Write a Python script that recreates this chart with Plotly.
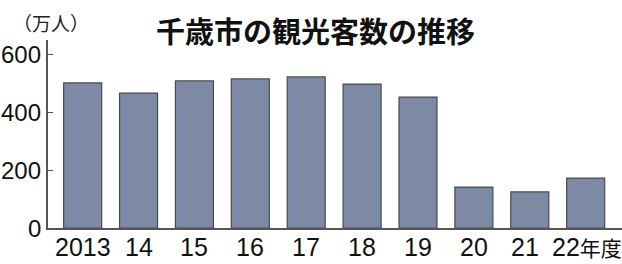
import plotly.graph_objects as go

years = ["2013", "14", "15", "16", "17", "18", "19", "20", "21", "22年度"]
visitors = [503, 468, 510, 517, 524, 499, 454, 142, 125, 173]
y_ticks = [0, 200, 400, 600]

title_text = "千歳市の観光客数の推移"
unit_text = "（万人）"

num_font = "Liberation Sans, Noto Sans CJK JP, sans-serif"
cjk_font = "Noto Sans CJK JP, sans-serif"

# plot area spans x 48..622, y 40..228
PL, PT, PW, PH = 48, 40, 574, 188

fig = go.Figure()
fig.add_trace(go.Bar(
    x=list(range(len(years))),
    y=visitors,
    marker=dict(color="#7c8aa6", line=dict(color="#4a4a4a", width=1.2)),
    width=0.68,
))

annotations = [
    dict(text=f"<b>{title_text}</b>", xref="paper", yref="paper",
         x=(315 - PL) / PW, y=1 + (PT - 30) / PH, xanchor="center", yanchor="middle",
         showarrow=False, font=dict(family=cjk_font, size=29, color="#111")),
    dict(text=unit_text, xref="paper", yref="paper",
         x=(11 - PL) / PW, y=1 + (PT - 23) / PH, xanchor="left", yanchor="middle",
         showarrow=False, font=dict(family=cjk_font, size=19, color="#222")),
]
for i, lab in enumerate(years):
    shown = lab.replace("年度", "<span style='font-size:21px'>年度</span>")
    annotations.append(dict(
        text=shown, xref="x", yref="paper", x=i, y=0,
        xanchor="center", yanchor="top", yshift=-3,
        xshift=(1 if i == 9 else (-5 if i == 8 else 0)),
        showarrow=False, font=dict(family=num_font, size=25, color="#111"),
    ))
for v in y_ticks:
    annotations.append(dict(
        text=str(v), xref="paper", yref="y", x=0, y=v,
        xanchor="right", yanchor="middle", xshift=-5,
        showarrow=False, font=dict(family=num_font, size=24, color="#111"),
    ))

fig.update_layout(
    width=622, height=264,
    margin=dict(l=PL, r=622 - PL - PW, t=PT, b=264 - PT - PH, autoexpand=False),
    paper_bgcolor="white", plot_bgcolor="white",
    showlegend=False,
    xaxis=dict(
        range=[-0.62, 9.65],
        showticklabels=False,
        showline=True, linecolor="#555", linewidth=1.5,
        ticks="", showgrid=False, zeroline=False,
        automargin=False,
        fixedrange=True,
    ),
    yaxis=dict(
        range=[0, 652],
        tickmode="array",
        tickvals=y_ticks,
        showticklabels=False,
        showline=True, linecolor="#555", linewidth=1.5,
        ticks="inside", ticklen=5, tickcolor="#555", tickwidth=1,
        showgrid=False, zeroline=False,
        automargin=False,
        fixedrange=True,
    ),
    annotations=annotations,
)

fig.write_html(
    "out.html",
    config={"displayModeBar": False},
    post_script="document.body.style.margin='0';",
)
